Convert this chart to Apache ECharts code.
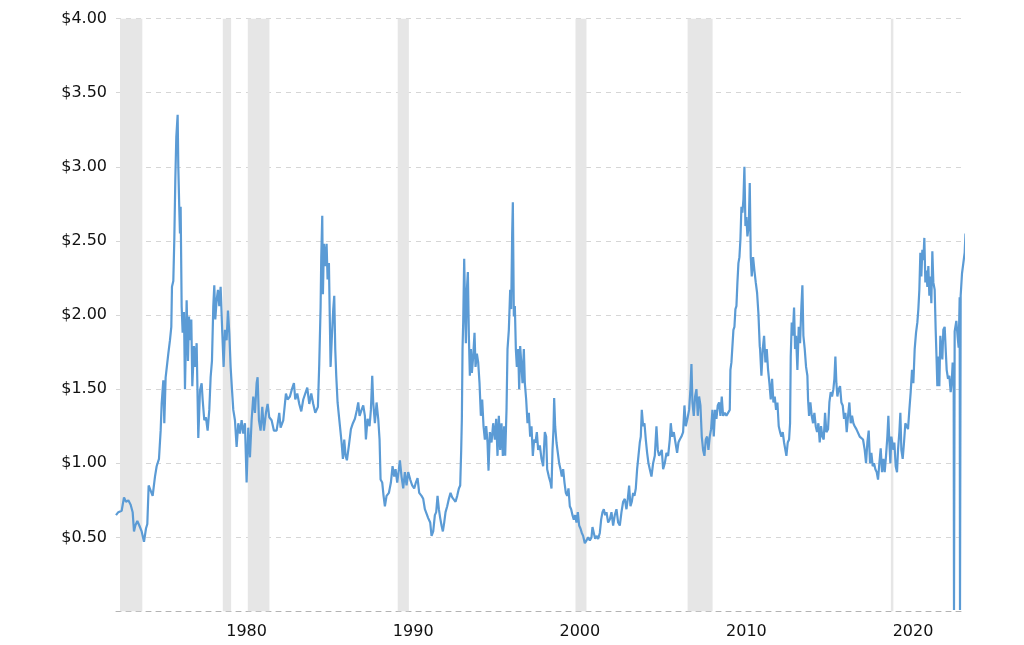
<!DOCTYPE html>
<html>
<head>
<meta charset="utf-8">
<script src="https://cdn.jsdelivr.net/npm/echarts@6/dist/echarts.min.js"></script>
<style>
  html, body { margin: 0; padding: 0; background: #ffffff; }
  #chart { width: 1024px; height: 645px; }
</style>
</head>
<body>
<div id="chart"></div>
<script>
// ---- Data: [decimal year, price in $] ----
const prices1973to1986 = [
  [1973.59,0.65],[1973.73,0.67],[1973.93,0.68],[1974.07,0.77],[1974.19,0.74],[1974.33,0.75],[1974.47,0.72],[1974.59,0.67],
  [1974.67,0.54],[1974.75,0.58],[1974.87,0.61],[1974.99,0.58],[1975.13,0.54],[1975.27,0.47],[1975.39,0.56],[1975.47,0.59],
  [1975.55,0.85],[1975.67,0.86],[1975.79,0.78],[1975.93,0.91],[1976.03,0.98],[1976.17,1.03],[1976.27,1.22],[1976.33,1.40],
  [1976.43,1.56],[1976.49,1.27],[1976.57,1.58],[1976.67,1.58],[1976.73,1.74],[1976.83,1.83],[1976.91,1.92],[1976.95,2.19],
  [1977.03,2.23],[1977.09,2.51],[1977.15,2.91],[1977.21,3.20],[1977.29,3.35],[1977.33,3.00],[1977.39,2.71],[1977.43,2.55],
  [1977.47,2.73],[1977.53,2.06],[1977.59,1.88],[1977.67,2.02],[1977.73,1.50],[1977.83,2.10],[1977.91,1.69],[1977.97,1.99],
  [1978.03,1.83],[1978.11,1.97],[1978.17,1.52],[1978.27,1.79],[1978.35,1.65],[1978.43,1.81],[1978.53,1.17],[1978.63,1.49],
  [1978.73,1.54],[1978.79,1.43],[1978.89,1.29],[1978.99,1.31],[1979.09,1.22],[1979.19,1.36],[1979.27,1.58],[1979.35,1.69],
  [1979.43,2.06],[1979.49,2.20],[1979.55,1.97],[1979.63,2.10],[1979.71,2.17],[1979.79,2.06],[1979.87,2.19],[1979.97,1.88],
  [1980.05,1.65],[1980.13,1.90],[1980.23,1.83],[1980.31,2.03],[1980.39,1.88],[1980.47,1.65],[1980.55,1.50],[1980.63,1.36],
  [1980.73,1.29],[1980.83,1.11],[1980.93,1.27],[1981.03,1.20],[1981.13,1.29],[1981.23,1.20],[1981.33,1.27],[1981.43,0.87],
  [1981.53,1.24],[1981.63,1.04],[1981.73,1.29],[1981.83,1.45],[1981.93,1.34],[1982.03,1.54],[1982.09,1.58],[1982.17,1.29],
  [1982.27,1.22],[1982.37,1.38],[1982.47,1.22],[1982.59,1.34],[1982.69,1.40],[1982.79,1.31],[1982.93,1.29],[1983.07,1.22],
  [1983.23,1.22],[1983.39,1.34],[1983.47,1.24],[1983.63,1.29],[1983.79,1.47],[1983.89,1.43],[1984.03,1.45],[1984.15,1.50],
  [1984.27,1.54],[1984.35,1.43],[1984.47,1.47],[1984.59,1.40],[1984.71,1.35],[1984.83,1.43],[1984.95,1.43],[1985.07,1.51],
  [1985.19,1.40],[1985.31,1.47],[1985.43,1.40],[1985.55,1.34],[1985.71,1.38],[1985.79,1.67],[1985.87,2.05],[1985.91,2.39],
  [1985.97,2.67],[1986.01,2.14],[1986.07,2.48],[1986.15,2.33],[1986.23,2.48],[1986.29,2.24],[1986.37,2.35]
];
const prices1986to1999 = [
  [1986.47,1.65],[1986.55,1.86],[1986.63,2.04],[1986.69,2.13],[1986.75,1.77],[1986.81,1.59],[1986.89,1.41],[1986.97,1.32],
  [1987.05,1.23],[1987.13,1.14],[1987.21,1.03],[1987.29,1.16],[1987.37,1.05],[1987.45,1.02],[1987.57,1.12],[1987.69,1.23],
  [1987.81,1.27],[1987.93,1.30],[1988.05,1.36],[1988.13,1.41],[1988.21,1.32],[1988.33,1.36],[1988.43,1.39],[1988.53,1.32],
  [1988.59,1.16],[1988.69,1.30],[1988.81,1.25],[1988.89,1.36],[1988.97,1.59],[1989.03,1.41],[1989.13,1.27],[1989.23,1.41],
  [1989.33,1.30],[1989.41,1.16],[1989.47,0.89],[1989.57,0.87],[1989.65,0.78],[1989.73,0.71],[1989.83,0.78],[1989.97,0.80],
  [1990.09,0.87],[1990.19,0.98],[1990.29,0.91],[1990.37,0.96],[1990.47,0.87],[1990.57,0.96],[1990.63,1.02],[1990.73,0.91],
  [1990.83,0.83],[1990.93,0.94],[1991.03,0.85],[1991.13,0.94],[1991.25,0.89],[1991.37,0.85],[1991.49,0.83],[1991.59,0.87],
  [1991.69,0.90],[1991.79,0.80],[1991.93,0.78],[1992.03,0.76],[1992.13,0.69],[1992.23,0.66],[1992.33,0.63],[1992.45,0.60],
  [1992.53,0.51],[1992.63,0.54],[1992.73,0.65],[1992.81,0.67],[1992.89,0.78],[1992.97,0.69],[1993.05,0.63],[1993.13,0.58],
  [1993.21,0.54],[1993.29,0.60],[1993.37,0.67],[1993.47,0.71],[1993.57,0.76],[1993.67,0.80],[1993.77,0.77],[1993.87,0.78],
  [1993.97,0.74],[1994.07,0.78],[1994.17,0.83],[1994.25,0.85],[1994.31,1.09],[1994.35,1.30],[1994.39,1.77],[1994.43,1.95],
  [1994.49,2.38],[1994.53,2.13],[1994.59,1.81],[1994.65,2.17],[1994.71,2.29],[1994.77,1.86],[1994.83,1.59],[1994.89,1.77],
  [1994.95,1.61],[1995.03,1.72],[1995.11,1.88],[1995.17,1.65],[1995.25,1.74],[1995.33,1.68],[1995.41,1.54],[1995.49,1.32],
  [1995.57,1.43],[1995.65,1.25],[1995.73,1.16],[1995.81,1.25],[1995.89,1.14],[1995.95,0.95],[1996.03,1.21],[1996.13,1.14],
  [1996.23,1.27],[1996.33,1.16],[1996.41,1.30],[1996.49,1.05],[1996.57,1.32],[1996.65,1.09],[1996.73,1.27],[1996.81,1.05],
  [1996.89,1.25],[1996.95,1.05],[1997.03,1.36],[1997.09,1.77],[1997.17,1.90],[1997.25,2.17],[1997.31,2.04],[1997.37,2.55],
  [1997.41,2.76],[1997.47,1.99],[1997.53,2.06],[1997.59,1.77],[1997.65,1.65],[1997.73,1.77],[1997.79,1.50],[1997.85,1.79],
  [1997.93,1.65],[1997.99,1.54],[1998.07,1.77],[1998.13,1.54],[1998.21,1.43],[1998.29,1.27],[1998.37,1.34],[1998.45,1.18],
  [1998.53,1.25],[1998.61,1.05],[1998.69,1.16],[1998.77,1.14],[1998.85,1.21],[1998.93,1.09],[1999.03,1.12],[1999.13,1.03]
];
const prices1999to2012 = [
  [1999.23,0.98],[1999.33,1.21],[1999.41,1.18],[1999.47,0.96],[1999.57,0.91],[1999.67,0.87],[1999.73,0.83],[1999.79,1.09],
  [1999.85,1.23],[1999.89,1.44],[1999.95,1.25],[2000.03,1.14],[2000.11,1.07],[2000.19,1.00],[2000.27,0.96],[2000.35,0.91],
  [2000.43,0.96],[2000.51,0.87],[2000.59,0.80],[2000.67,0.78],[2000.75,0.83],[2000.83,0.71],[2000.91,0.69],[2000.99,0.65],
  [2001.07,0.62],[2001.15,0.65],[2001.23,0.60],[2001.31,0.67],[2001.39,0.58],[2001.47,0.56],[2001.55,0.53],[2001.63,0.51],
  [2001.73,0.46],[2001.83,0.48],[2001.93,0.50],[2002.03,0.48],[2002.13,0.50],[2002.19,0.57],[2002.27,0.53],[2002.35,0.49],
  [2002.43,0.51],[2002.53,0.49],[2002.63,0.53],[2002.71,0.62],[2002.79,0.67],[2002.87,0.69],[2002.95,0.65],[2003.03,0.67],
  [2003.13,0.60],[2003.23,0.62],[2003.33,0.67],[2003.43,0.58],[2003.53,0.65],[2003.63,0.69],[2003.73,0.60],[2003.83,0.58],
  [2003.93,0.67],[2004.03,0.74],[2004.13,0.76],[2004.23,0.69],[2004.31,0.76],[2004.39,0.85],[2004.47,0.71],[2004.55,0.74],
  [2004.63,0.80],[2004.71,0.78],[2004.79,0.83],[2004.87,0.96],[2004.95,1.05],[2005.03,1.14],[2005.09,1.18],[2005.15,1.36],
  [2005.23,1.25],[2005.31,1.27],[2005.39,1.16],[2005.47,1.07],[2005.55,1.00],[2005.63,0.96],[2005.73,0.91],[2005.83,1.00],
  [2005.93,1.05],[2006.03,1.25],[2006.11,1.09],[2006.19,1.05],[2006.27,1.05],[2006.35,1.09],[2006.43,0.96],[2006.53,1.00],
  [2006.63,1.07],[2006.73,1.05],[2006.83,1.16],[2006.89,1.27],[2006.97,1.18],[2007.07,1.21],[2007.17,1.14],[2007.27,1.07],
  [2007.35,1.14],[2007.43,1.16],[2007.53,1.18],[2007.63,1.21],[2007.71,1.39],[2007.79,1.25],[2007.89,1.30],[2007.99,1.36],
  [2008.07,1.50],[2008.13,1.67],[2008.19,1.41],[2008.27,1.32],[2008.35,1.45],[2008.43,1.50],[2008.51,1.32],[2008.59,1.45],
  [2008.67,1.39],[2008.75,1.18],[2008.83,1.09],[2008.91,1.05],[2008.99,1.16],[2009.07,1.18],[2009.15,1.09],[2009.23,1.18],
  [2009.31,1.23],[2009.39,1.36],[2009.47,1.18],[2009.55,1.36],[2009.63,1.30],[2009.71,1.39],[2009.79,1.41],[2009.87,1.32],
  [2009.95,1.45],[2010.03,1.32],[2010.13,1.34],[2010.23,1.32],[2010.33,1.32],[2010.43,1.36],[2010.47,1.63],[2010.53,1.68],
  [2010.59,1.79],[2010.65,1.90],[2010.71,1.92],[2010.77,2.04],[2010.83,2.06],[2010.89,2.22],[2010.95,2.35],[2011.01,2.39],
  [2011.07,2.51],[2011.13,2.73],[2011.19,2.69],[2011.25,2.78],[2011.31,3.00],[2011.37,2.60],[2011.43,2.66],[2011.49,2.53],
  [2011.57,2.60],[2011.63,2.89],[2011.69,2.39],[2011.75,2.26],[2011.83,2.39],[2011.91,2.30],[2011.99,2.22],[2012.07,2.15],
  [2012.15,2.01],[2012.23,1.79]
];
const prices2012to2024 = [
  [2012.25,1.77],[2012.33,1.59],[2012.41,1.77],[2012.49,1.86],[2012.57,1.68],[2012.65,1.77],[2012.73,1.63],[2012.81,1.54],
  [2012.89,1.43],[2012.97,1.57],[2013.05,1.41],[2013.13,1.45],[2013.21,1.36],[2013.29,1.41],[2013.37,1.25],[2013.45,1.21],
  [2013.53,1.18],[2013.61,1.21],[2013.69,1.14],[2013.77,1.14],[2013.83,1.05],[2013.91,1.14],[2013.99,1.16],[2014.05,1.27],
  [2014.09,1.72],[2014.15,1.95],[2014.21,1.86],[2014.29,2.05],[2014.35,1.77],[2014.41,1.86],[2014.49,1.63],[2014.57,1.92],
  [2014.65,1.81],[2014.73,2.06],[2014.79,2.20],[2014.85,1.86],[2014.93,1.77],[2015.01,1.65],[2015.09,1.59],[2015.13,1.43],
  [2015.19,1.32],[2015.27,1.41],[2015.35,1.32],[2015.43,1.27],[2015.51,1.34],[2015.59,1.25],[2015.67,1.21],[2015.75,1.27],
  [2015.83,1.14],[2015.91,1.25],[2015.99,1.18],[2016.07,1.16],[2016.15,1.34],[2016.23,1.21],[2016.33,1.23],[2016.41,1.41],
  [2016.49,1.48],[2016.57,1.45],[2016.65,1.50],[2016.71,1.57],[2016.77,1.72],[2016.83,1.54],[2016.89,1.45],[2016.97,1.50],
  [2017.05,1.52],[2017.13,1.41],[2017.21,1.39],[2017.29,1.30],[2017.37,1.34],[2017.45,1.21],[2017.53,1.32],[2017.61,1.41],
  [2017.69,1.27],[2017.77,1.32],[2017.85,1.27],[2017.93,1.25],[2018.03,1.23],[2018.13,1.23],[2018.23,1.18],[2018.33,1.18],
  [2018.43,1.16],[2018.53,1.09],[2018.61,1.00],[2018.69,1.14],[2018.77,1.22],[2018.85,1.00],[2018.93,1.07],[2019.01,0.98],
  [2019.09,1.00],[2019.17,0.96],[2019.25,0.94],[2019.33,0.89],[2019.41,1.00],[2019.49,1.10],[2019.57,0.94],[2019.65,1.03],
  [2019.73,0.94],[2019.81,1.05],[2019.89,1.18],[2019.95,1.32],[2020.01,1.14],[2020.07,1.00],[2020.13,1.18],[2020.19,1.18],
  [2020.25,1.09],[2020.31,1.14],[2020.39,0.98],[2020.47,0.94],[2020.53,1.09],[2020.61,1.21],[2020.67,1.34],[2020.73,1.09],
  [2020.81,1.03],[2020.89,1.14],[2020.97,1.27],[2021.05,1.25],[2021.13,1.23],[2021.21,1.36],[2021.29,1.48],[2021.37,1.63],
  [2021.45,1.54],[2021.53,1.77],[2021.61,1.88],[2021.69,1.95],[2021.75,2.04],[2021.81,2.17],[2021.87,2.42],[2021.93,2.26],
  [2021.99,2.44],[2022.05,2.37],[2022.11,2.52],[2022.17,2.22],[2022.23,2.30],[2022.29,2.19],[2022.35,2.33],[2022.41,2.13],
  [2022.47,2.26],[2022.53,2.08],[2022.59,2.43],[2022.65,2.22],[2022.73,2.17],[2022.79,1.90],[2022.85,1.68],[2022.89,1.52],
  [2022.95,1.72],[2023.01,1.52],[2023.07,1.86],[2023.13,1.77],[2023.19,1.70],[2023.25,1.90],[2023.33,1.92],[2023.39,1.77],
  [2023.45,1.63],[2023.53,1.57],[2023.61,1.59],[2023.69,1.48],[2023.75,1.54],[2023.81,1.68],[2023.87,1.54],[2023.89,0.01],
  [2023.93,1.89],[2024.03,1.96],[2024.11,1.85],[2024.17,1.78],[2024.23,2.12],[2024.25,0.01],[2024.29,2.13],[2024.37,2.28],
  [2024.45,2.35],[2024.53,2.42],[2024.58,2.55],[2024.62,2.44],[2024.66,2.50]
];

// Shaded periods (recessions): start / end as decimal years
const recessionStarts = [1973.83, 1980.0, 1981.5, 1990.5, 2001.17, 2007.9, 2020.1];
const recessionEnds   = [1975.17, 1980.5, 1982.8, 1991.17, 2001.83, 2009.4, 2020.25];

// Axis ticks
const xTickValues = [1981.43, 1991.43, 2001.43, 2011.43, 2021.43];
const xTickLabels = ['1980', '1990', '2000', '2010', '2020'];
const yMin = 0, yMax = 4, yStep = 0.5;
const xMin = 1973.59, xMax = 2024.43;

const allPrices = prices1973to1986.concat(prices1986to1999, prices1999to2012, prices2012to2024);
const recessions = recessionStarts.map((s, i) => [s, recessionEnds[i]]);

const chart = echarts.init(document.getElementById('chart'), null, { renderer: 'canvas' });
const font = 'DejaVu Sans';

chart.setOption({
  animation: false,
  backgroundColor: '#ffffff',
  grid: { left: 116, right: 61, top: 18.5, bottom: 33.5, containLabel: false },
  xAxis: {
    type: 'value',
    min: xMin,
    max: xMax,
    axisLine: { show: true, lineStyle: { color: '#b3b3b3', type: [5, 5], width: 1 } },
    axisTick: { show: false },
    splitLine: { show: false },
    axisLabel: {
      customValues: xTickValues,
      formatter: function (v) {
        let best = 0, d = Infinity;
        xTickValues.forEach((t, i) => { const dd = Math.abs(t - v); if (dd < d) { d = dd; best = i; } });
        return xTickLabels[best];
      },
      color: '#111111',
      fontSize: 16,
      fontFamily: font,
      margin: 12
    }
  },
  yAxis: {
    type: 'value',
    min: yMin,
    max: yMax,
    interval: yStep,
    axisLine: { show: false },
    axisTick: { show: false },
    axisLabel: {
      formatter: v => '$' + v.toFixed(2),
      showMinLabel: false,
      color: '#111111',
      fontSize: 16,
      fontFamily: font,
      margin: 9
    },
    splitLine: { show: true, lineStyle: { color: '#d6d6d6', type: [5, 5], width: 1 } }
  },
  series: [
    {
      type: 'custom',
      z: 1,
      silent: true,
      clip: true,
      encode: { x: [0, 1] },
      data: recessions,
      renderItem: function (params, api) {
        const p0 = api.coord([api.value(0), yMax]);
        const p1 = api.coord([api.value(1), yMin]);
        return {
          type: 'rect',
          shape: { x: p0[0], y: p0[1], width: p1[0] - p0[0], height: p1[1] - p0[1] },
          style: { fill: '#e6e6e6' }
        };
      }
    },
    {
      type: 'line',
      z: 3,
      data: allPrices,
      showSymbol: false,
      clip: false,
      lineStyle: { color: '#5b9bd5', width: 2.2 },
      itemStyle: { color: '#5b9bd5' }
    }
  ]
});
</script>
</body>
</html>
